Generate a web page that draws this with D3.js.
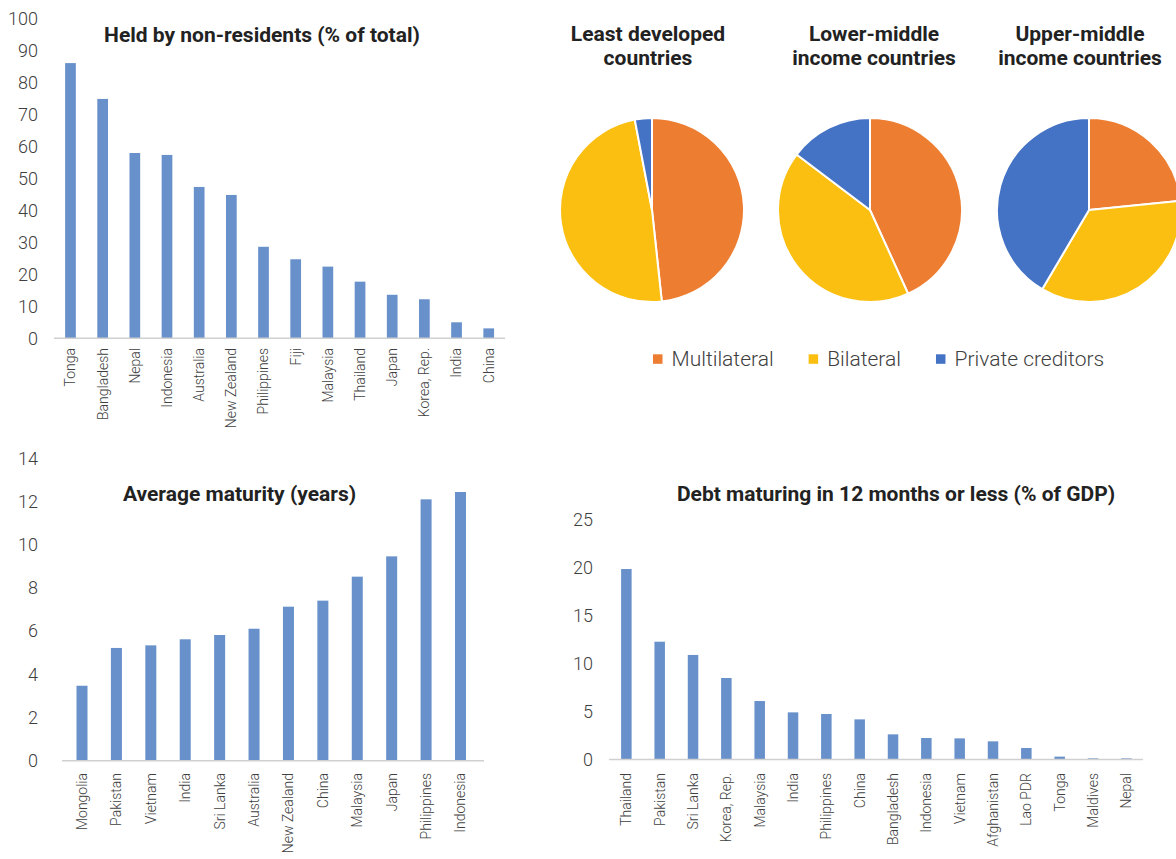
<!DOCTYPE html>
<html>
<head>
<meta charset="utf-8">
<script src="https://cdn.jsdelivr.net/npm/d3@7"></script>
<style>
  html, body { margin: 0; padding: 0; background: #fff; }
  svg { display: block; font-family: Roboto, "Open Sans", sans-serif; }
  .tick-label { fill: #404040; font-weight: 300; }
  .cat-label { fill: #404040; font-weight: 300; font-size: 14px; }
  .title { fill: #222; font-weight: 700; font-size: 21px; }
</style>
</head>
<body>
<svg id="chart" width="1176" height="859"></svg>
<script>
// Government debt holders, by economy
const nonResCountries = ["Tonga", "Bangladesh", "Nepal", "Indonesia", "Australia", "New Zealand",
  "Philippines", "Fiji", "Malaysia", "Thailand", "Japan", "Korea, Rep.", "India", "China"];
const nonResValues = [86.0, 74.8, 57.9, 57.3, 47.3, 44.8, 28.6, 24.7, 22.4, 17.7, 13.6, 12.2, 5.0, 3.1];
const nonResTicks = [0, 10, 20, 30, 40, 50, 60, 70, 80, 90, 100];

// Creditor composition, by income group
const incomeGroups = [["Least developed", "countries"], ["Lower-middle", "income countries"], ["Upper-middle", "income countries"]];
const creditorTypes = ["Multilateral", "Bilateral", "Private creditors"];
const creditorShares = [
  [48.3, 48.7, 3.0],
  [43.2, 42.1, 14.7],
  [23.4, 35.1, 41.5]
];

// Average maturity of debt
const maturityCountries = ["Mongolia", "Pakistan", "Vietnam", "India", "Sri Lanka", "Australia",
  "New Zealand", "China", "Malaysia", "Japan", "Philippines", "Indonesia"];
const maturityValues = [3.47, 5.22, 5.34, 5.62, 5.82, 6.11, 7.13, 7.41, 8.52, 9.46, 12.10, 12.44];
const maturityTicks = [0, 2, 4, 6, 8, 10, 12, 14];

// Short-term debt maturing within a year
const shortCountries = ["Thailand", "Pakistan", "Sri Lanka", "Korea, Rep.", "Malaysia", "India",
  "Philippines", "China", "Bangladesh", "Indonesia", "Vietnam", "Afghanistan", "Lao PDR", "Tonga",
  "Maldives", "Nepal"];
const shortValues = [19.84, 12.27, 10.89, 8.49, 6.09, 4.91, 4.74, 4.18, 2.62, 2.24, 2.2, 1.89, 1.2, 0.3, 0.12, 0.12];
const shortTicks = [0, 5, 10, 15, 20, 25];

const barColor = "#6891CB";
const creditorColors = ["#ED7D31", "#FBBF12", "#4472C4"];

const svg = d3.select("#chart");

function barPanel(cfg) {
  const g = svg.append("g");
  const x = d3.scaleBand().domain(cfg.categories).range(cfg.xRange)
    .paddingInner(cfg.pad).paddingOuter(cfg.pad / 2);
  const y = d3.scaleLinear().domain(cfg.yDomain).range(cfg.yRange);

  // value labels on the left
  g.selectAll("text.tick-label").data(cfg.ticks).join("text")
    .attr("class", "tick-label")
    .attr("x", cfg.tickX)
    .attr("y", d => y(d))
    .attr("dy", "0.35em")
    .attr("text-anchor", "end")
    .style("font-size", "18px")
    .text(d => d);

  // bars
  g.selectAll("rect").data(cfg.values).join("rect")
    .attr("x", (d, i) => x(cfg.categories[i]))
    .attr("width", x.bandwidth())
    .attr("y", d => y(d))
    .attr("height", d => y(0) - y(d))
    .attr("fill", barColor);

  // baseline
  g.append("line")
    .attr("x1", cfg.lineX[0]).attr("x2", cfg.lineX[1])
    .attr("y1", y(0)).attr("y2", y(0))
    .attr("stroke", "#d0d0d0").attr("stroke-width", 1.5);

  // category labels, rotated
  g.selectAll("text.cat-label").data(cfg.categories).join("text")
    .attr("class", "cat-label")
    .attr("transform", d => `translate(${x(d) + x.bandwidth() / 2},${cfg.labelTop}) rotate(-90)`)
    .attr("dy", "0.35em")
    .attr("text-anchor", "end")
    .text(d => d);

  g.append("text").attr("class", "title")
    .attr("x", cfg.titleX).attr("y", cfg.titleY)
    .attr("text-anchor", "middle")
    .text(cfg.title);
}

barPanel({
  categories: nonResCountries, values: nonResValues, ticks: nonResTicks,
  xRange: [54.4, 504.8], pad: 0.667, yDomain: [0, 100], yRange: [338.3, 18.3],
  tickX: 38, lineX: [54, 505], labelTop: 348,
  title: "Held by non-residents (% of total)", titleX: 262, titleY: 41.5
});

barPanel({
  categories: maturityCountries, values: maturityValues, ticks: maturityTicks,
  xRange: [64.8, 477.7], pad: 0.68, yDomain: [0, 14], yRange: [760.7, 458.3],
  tickX: 38, lineX: [62, 484], labelTop: 773,
  title: "Average maturity (years)", titleX: 239.5, titleY: 501
});

barPanel({
  categories: shortCountries, values: shortValues, ticks: shortTicks,
  xRange: [609.7, 1143], pad: 0.685, yDomain: [0, 25], yRange: [759.5, 519.5],
  tickX: 593, lineX: [609, 1143], labelTop: 773,
  title: "Debt maturing in 12 months or less (% of GDP)", titleX: 896, titleY: 501
});

// Pies
const pieCenters = [652, 870, 1089];
const pieTitleX = [648, 874, 1080];
const pieY = 210, pieR = 92;
const pie = d3.pie().sort(null).value(d => d);
const arc = d3.arc().innerRadius(0).outerRadius(pieR);

incomeGroups.forEach((lines, k) => {
  const g = svg.append("g").attr("transform", `translate(${pieCenters[k]},${pieY})`);
  g.selectAll("path").data(pie(creditorShares[k])).join("path")
    .attr("d", arc)
    .attr("fill", (d, i) => creditorColors[i])
    .attr("stroke", "#fff")
    .attr("stroke-width", 2)
    .attr("stroke-linejoin", "round");

  const t = svg.append("text").attr("class", "title")
    .attr("text-anchor", "middle")
    .attr("x", pieTitleX[k]).attr("y", 41);
  lines.forEach((ln, j) => {
    t.append("tspan").attr("x", pieTitleX[k]).attr("dy", j === 0 ? 0 : 24).text(ln);
  });
});

// Legend
const legend = svg.append("g");
let lx = 653;
creditorTypes.forEach((name, i) => {
  legend.append("rect")
    .attr("x", lx).attr("y", 354.3).attr("width", 9.5).attr("height", 9.5)
    .attr("fill", creditorColors[i]);
  const txt = legend.append("text")
    .attr("x", lx + 18.5).attr("y", 359)
    .attr("dy", "0.35em")
    .attr("fill", "#404040")
    .style("font-size", "21px")
    .style("font-weight", 300)
    .text(name);
  lx = lx + 18.5 + txt.node().getComputedTextLength() + 35;
});
</script>
</body>
</html>
